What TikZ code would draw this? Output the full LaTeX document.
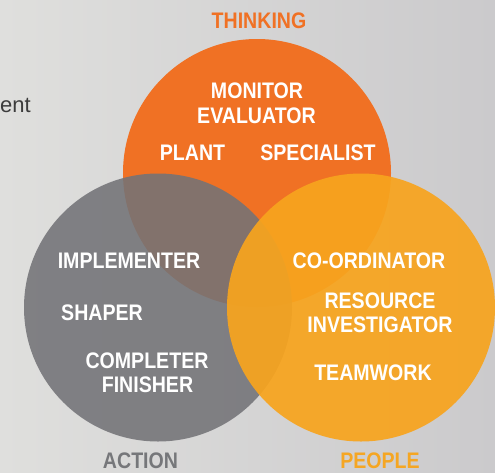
\documentclass[tikz,border=0pt]{standalone}
\usepackage{fontspec}
\newfontfamily\cond{Liberation Sans}[FakeStretch=0.87]
\newfontfamily\plainsans{Liberation Sans}
\definecolor{bgL}{HTML}{DFDFDD}
\definecolor{bgR}{HTML}{CBCACC}
\definecolor{orangeC}{HTML}{F07124}
\definecolor{greyC}{HTML}{737377}
\definecolor{yellowC}{HTML}{F7A41E}
\definecolor{actionC}{HTML}{76777A}
\definecolor{peopleC}{HTML}{F5A623}
\definecolor{textdark}{HTML}{3C3C3C}
\tikzset{
  vcircle/.style={circle, inner sep=0pt, minimum size=268pt},
  lbl/.style={font=\cond\bfseries\fontsize{22.5}{24}\selectfont, text=white, anchor=base, inner sep=0pt},
  head/.style={font=\cond\bfseries\fontsize{22.5}{24}\selectfont, anchor=base, inner sep=0pt}
}
\begin{document}
\begin{tikzpicture}[x=1pt,y=-1pt]
\useasboundingbox (0,0) rectangle (495,472);
\shade[left color=bgL, right color=bgR] (0,0) rectangle (495,472);
\node[font=\plainsans\fontsize{22}{24}\selectfont, text=textdark, anchor=base east, inner sep=0pt] (ent) at (31,112) {ent};
% circles
\node[vcircle, fill=orangeC] (think) at (257,173) {};
\node[vcircle, fill=greyC, fill opacity=0.88] (act) at (158,307.5) {};
\node[vcircle, fill=yellowC, fill opacity=0.93] (peop) at (361,307.5) {};
% headings
\node[head, text=orangeC] (thinking) at (259,28) {THINKING};
\node[head, text=actionC] (action) at (140.5,468) {ACTION};
\node[head, text=peopleC] (people) at (380,468) {PEOPLE};
% labels
\node[lbl] (monitor) at (257,98) {MONITOR};
\node[lbl] (evaluator) at (256.5,123) {EVALUATOR};
\node[lbl] (plant) at (192.5,160) {PLANT};
\node[lbl] (specialist) at (318,160) {SPECIALIST};
\node[lbl] (implementer) at (129,268) {IMPLEMENTER};
\node[lbl] (shaper) at (102,320) {SHAPER};
\node[lbl] (completer) at (147,368) {COMPLETER};
\node[lbl] (finisher) at (147.5,392) {FINISHER};
\node[lbl] (coord) at (369,268) {CO-ORDINATOR};
\node[lbl] (resource) at (380,308) {RESOURCE};
\node[lbl] (investigator) at (380,332) {INVESTIGATOR};
\node[lbl] (teamwork) at (373,380) {TEAMWORK};
\end{tikzpicture}
\end{document}
